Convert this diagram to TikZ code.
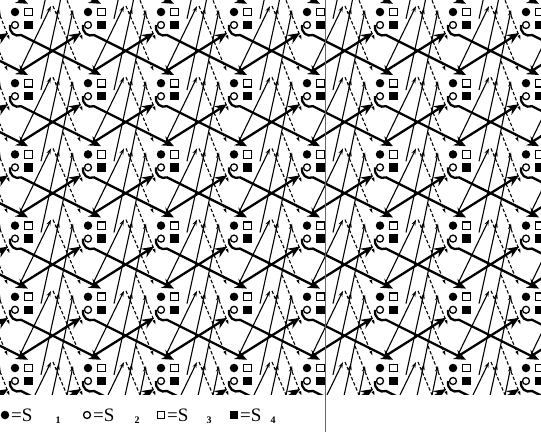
\documentclass[tikz,border=0pt]{standalone}
\usepackage{fontspec}
\setmainfont{Liberation Serif}
\usetikzlibrary{arrows.meta}

\tikzset{
  sone/.style={circle, fill=black, inner sep=0pt, minimum size=8.5pt},
  stwo/.style={circle, draw=black, line width=1.3pt, inner sep=0pt, minimum size=7pt},
  sthree/.style={rectangle, draw=black, line width=1.3pt, inner sep=0pt, minimum size=7.5pt},
  sfour/.style={rectangle, fill=black, inner sep=0pt, minimum size=8.5pt},
  thickarr/.style={line width=2.3pt, -{Stealth[length=12pt,width=10pt]}},
  thinarr/.style={line width=1.1pt, -{Stealth[length=6pt,width=4pt]}},
  dasharr/.style={line width=1.1pt, dash pattern=on 3.5pt off 2pt, -{Latex[length=6pt,width=3pt]}},
  legtext/.style={font=\fontsize{19}{19}\selectfont, inner sep=0pt, anchor=base west},
  legsub/.style={font=\fontsize{10}{10}\selectfont\bfseries, inner sep=0pt, anchor=base}
}

\begin{document}
\begin{tikzpicture}[x=1pt, y=-1pt, >=stealth]
\useasboundingbox (0,0) rectangle (541,432);

% trajectories of one period, repeated over the lattice
\begin{scope}
  \clip (0,-1) rectangle (541,394);
  \foreach \i in {-1,...,7}{
    \foreach \j in {-1,...,5}{
      \pgfmathsetmacro\X{15+73*\i}
      \pgfmathsetmacro\Y{12+71.2*\j}
      \begin{scope}[shift={(\X,\Y)}]
        % thin up-going lines
        \draw[thinarr] (4,60) -- (36,-6);
        \draw[thinarr] (26,78) -- (44,-4);
        \draw[thinarr] (42,76) -- (58,-2);
        % dashed down-going lines
        \draw[dasharr] (38,-6) -- (66,60);
        \draw[dasharr] (48,-22) -- (68,29);
        % thick crossing arrows
        \draw[thickarr] (-5,13) .. controls (-6,21) and (0,25) .. (6,23) -- (86,63);
        \draw[thickarr] (4,60) -- (66,21);
      \end{scope}
    }
  }
\end{scope}

% states S1..S4 at every lattice site
\foreach \i in {0,...,7}{
  \foreach \j in {0,...,5}{
    \pgfmathsetmacro\X{15+73*\i}
    \pgfmathsetmacro\Y{12+71.2*\j}
    \node[sone] (a-\i-\j) at (\X,\Y) {};
    \node[sthree] (c-\i-\j) at (\X+13.5,\Y) {};
    \node[stwo] (b-\i-\j) at (\X,\Y+13) {};
    \node[sfour] (d-\i-\j) at (\X+13.5,\Y+13) {};
  }
}

% thin vertical line
\draw[line width=0.4pt, black!60] (325,0) -- (325,432);

% legend
\node[sone] (k1) at (5,415) {};
\node[legtext] (t1) at (11,421) {=S};
\node[legsub] (n1) at (58,423) {1};
\node[stwo] (k2) at (87,415) {};
\node[legtext] (t2) at (93,421) {=S};
\node[legsub] (n2) at (137,423) {2};
\node[sthree] (k3) at (161,415) {};
\node[legtext] (t3) at (167,421) {=S};
\node[legsub] (n3) at (209,423) {3};
\node[sfour] (k4) at (234,415) {};
\node[legtext] (t4) at (240,421) {=S};
\node[legsub] (n4) at (273,423) {4};
\end{tikzpicture}
\end{document}
